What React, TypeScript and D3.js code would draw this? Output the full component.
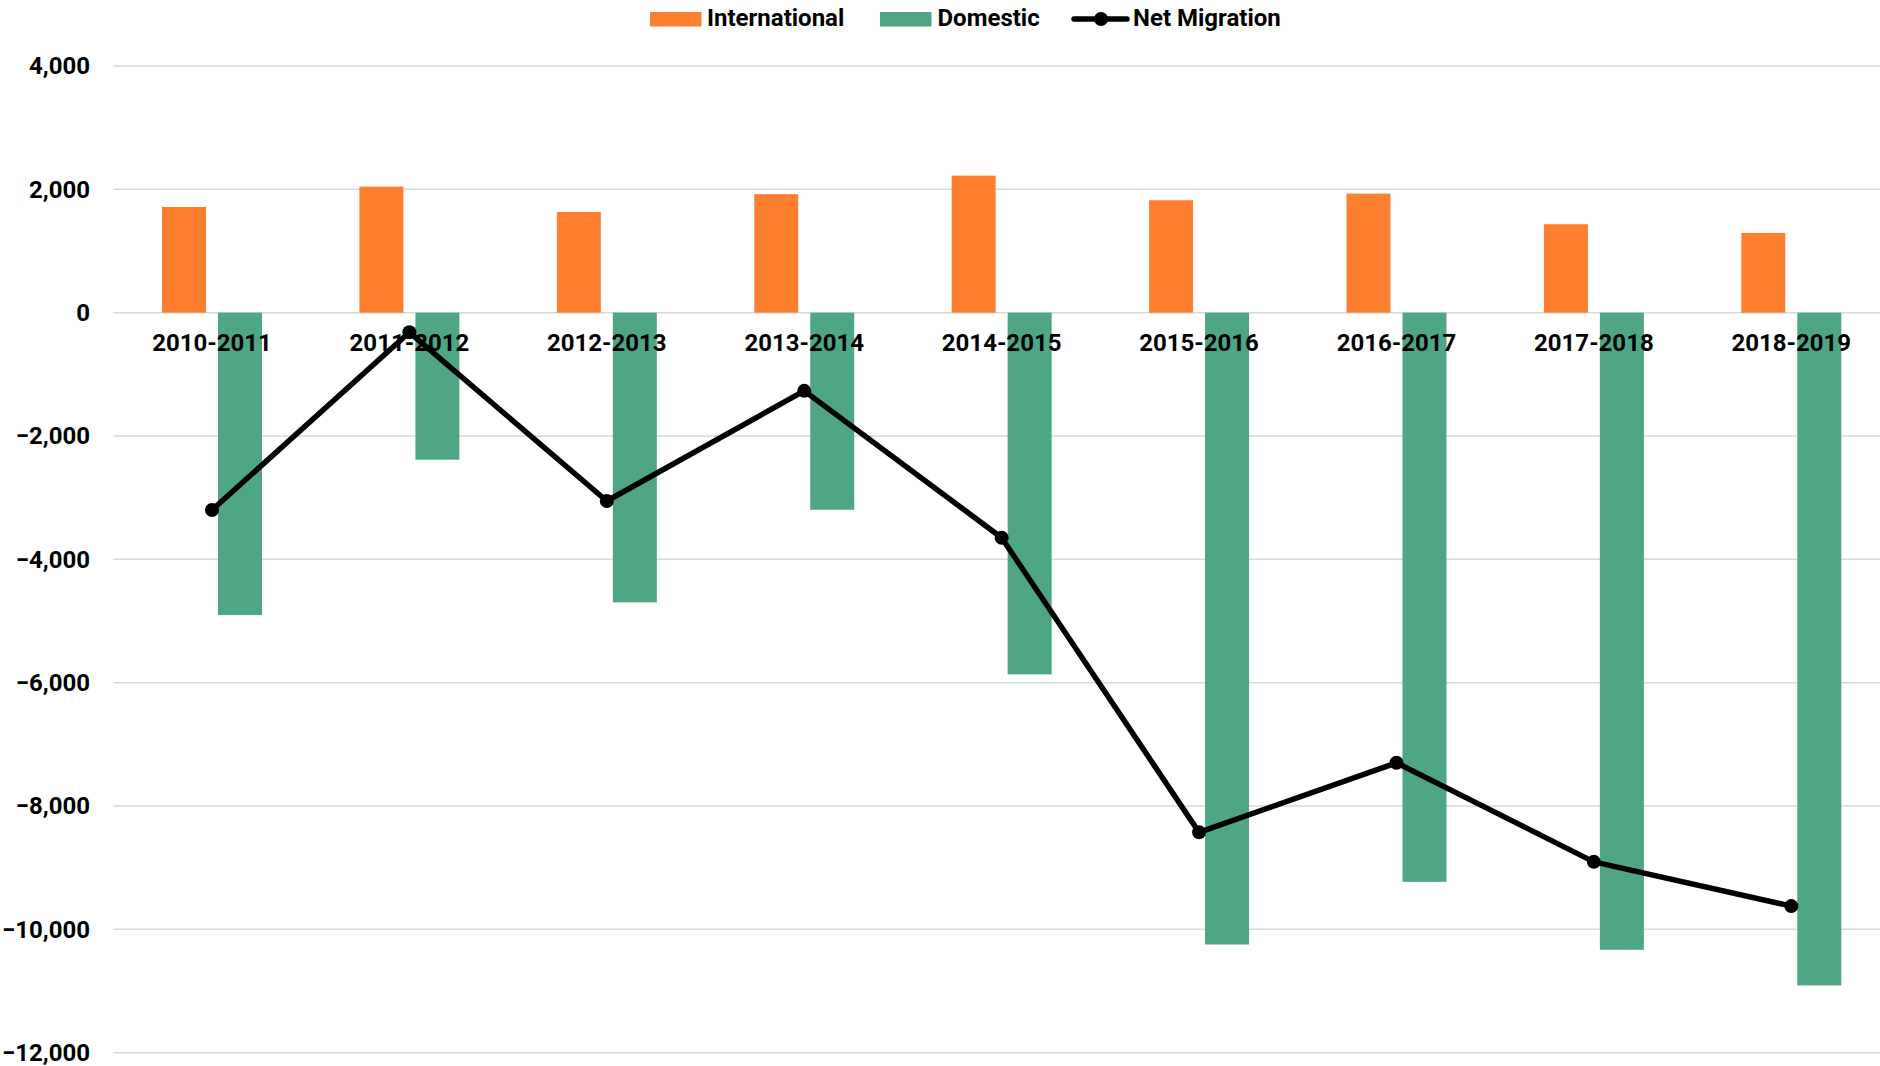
import * as d3 from "d3";

// Chart data
const categories = [
    "2010-2011", "2011-2012", "2012-2013", "2013-2014", "2014-2015",
    "2015-2016", "2016-2017", "2017-2018", "2018-2019",
];
const international = [1714, 2044, 1633, 1922, 2222, 1823, 1930, 1434, 1293];
const domestic = [-4904, -2384, -4697, -3195, -5865, -10245, -9229, -10332, -10909];
const netMigration = [-3200, -318, -3054, -1268, -3649, -8427, -7299, -8905, -9623];
const yTicks = [4000, 2000, 0, -2000, -4000, -6000, -8000, -10000, -12000];
const seriesNames = ["International", "Domestic"];

const ORANGE = "#fe7f2f";
const GREEN = "#4fa684";
const FONT = "Roboto, 'Noto Sans', sans-serif";

export default function App(): JSX.Element {
    const width = 1880;
    const height = 1066;
    const left = 113.3;

    // Scales
    const y = d3.scaleLinear().domain([-12000, 4000]).range([1052.7, 66]);
    const x = d3.scaleBand<string>().domain(categories).range([left, 1890]).padding(0);
    const sub = d3.scaleBand<string>().domain(seriesNames).range([-50, 50]).paddingInner(12 / 56);
    const center = (c: string) => (x(c) ?? 0) + x.bandwidth() / 2;
    const fmt = d3.format(",");

    const line = d3.line<number>()
        .x((_, i) => center(categories[i]))
        .y(d => y(d));

    return (
        <svg width={width} height={height} style={{ position: "absolute", left: 0, top: 0, background: "#fff" }}
            fontFamily={FONT}>
            {/* gridlines and y labels */}
            {yTicks.map(t => (
                <g key={t}>
                    <line x1={left} x2={width} y1={y(t)} y2={y(t)} stroke="#d9d9d9" strokeWidth={1.5} />
                    <text x={90} y={y(t)} dy="0.35em" textAnchor="end" fontSize={24} fontWeight={700} fill="#000">
                        {fmt(t)}
                    </text>
                </g>
            ))}

            {/* bars */}
            {categories.map((c, i) => (
                <g key={c}>
                    <rect x={center(c) + (sub("International") ?? 0)} width={sub.bandwidth()}
                        y={y(Math.max(0, international[i]))} height={Math.abs(y(international[i]) - y(0))} fill={ORANGE} />
                    <rect x={center(c) + (sub("Domestic") ?? 0)} width={sub.bandwidth()}
                        y={y(0)} height={Math.abs(y(domestic[i]) - y(0))} fill={GREEN} />
                </g>
            ))}

            {/* category labels */}
            {categories.map(c => (
                <text key={c} x={center(c)} y={y(0) + 38} textAnchor="middle" fontSize={24} fontWeight={700} fill="#000">
                    {c}
                </text>
            ))}

            {/* net migration line */}
            <path d={line(netMigration) ?? ""} fill="none" stroke="#000" strokeWidth={5.5} strokeLinejoin="round" />
            {netMigration.map((v, i) => (
                <circle key={i} cx={center(categories[i])} cy={y(v)} r={7} fill="#000" />
            ))}

            {/* legend */}
            <g fontSize={24} fontWeight={700} fill="#000">
                <rect x={650} y={12} width={51.5} height={14.5} fill={ORANGE} />
                <text x={707} y={26}>International</text>
                <rect x={880} y={12} width={51.5} height={14.5} fill={GREEN} />
                <text x={937.5} y={26}>Domestic</text>
                <line x1={1074} x2={1127} y1={19} y2={19} stroke="#000" strokeWidth={5.5} strokeLinecap="round" />
                <circle cx={1101} cy={19} r={7} fill="#000" />
                <text x={1133} y={26}>Net Migration</text>
            </g>
        </svg>
    );
}
